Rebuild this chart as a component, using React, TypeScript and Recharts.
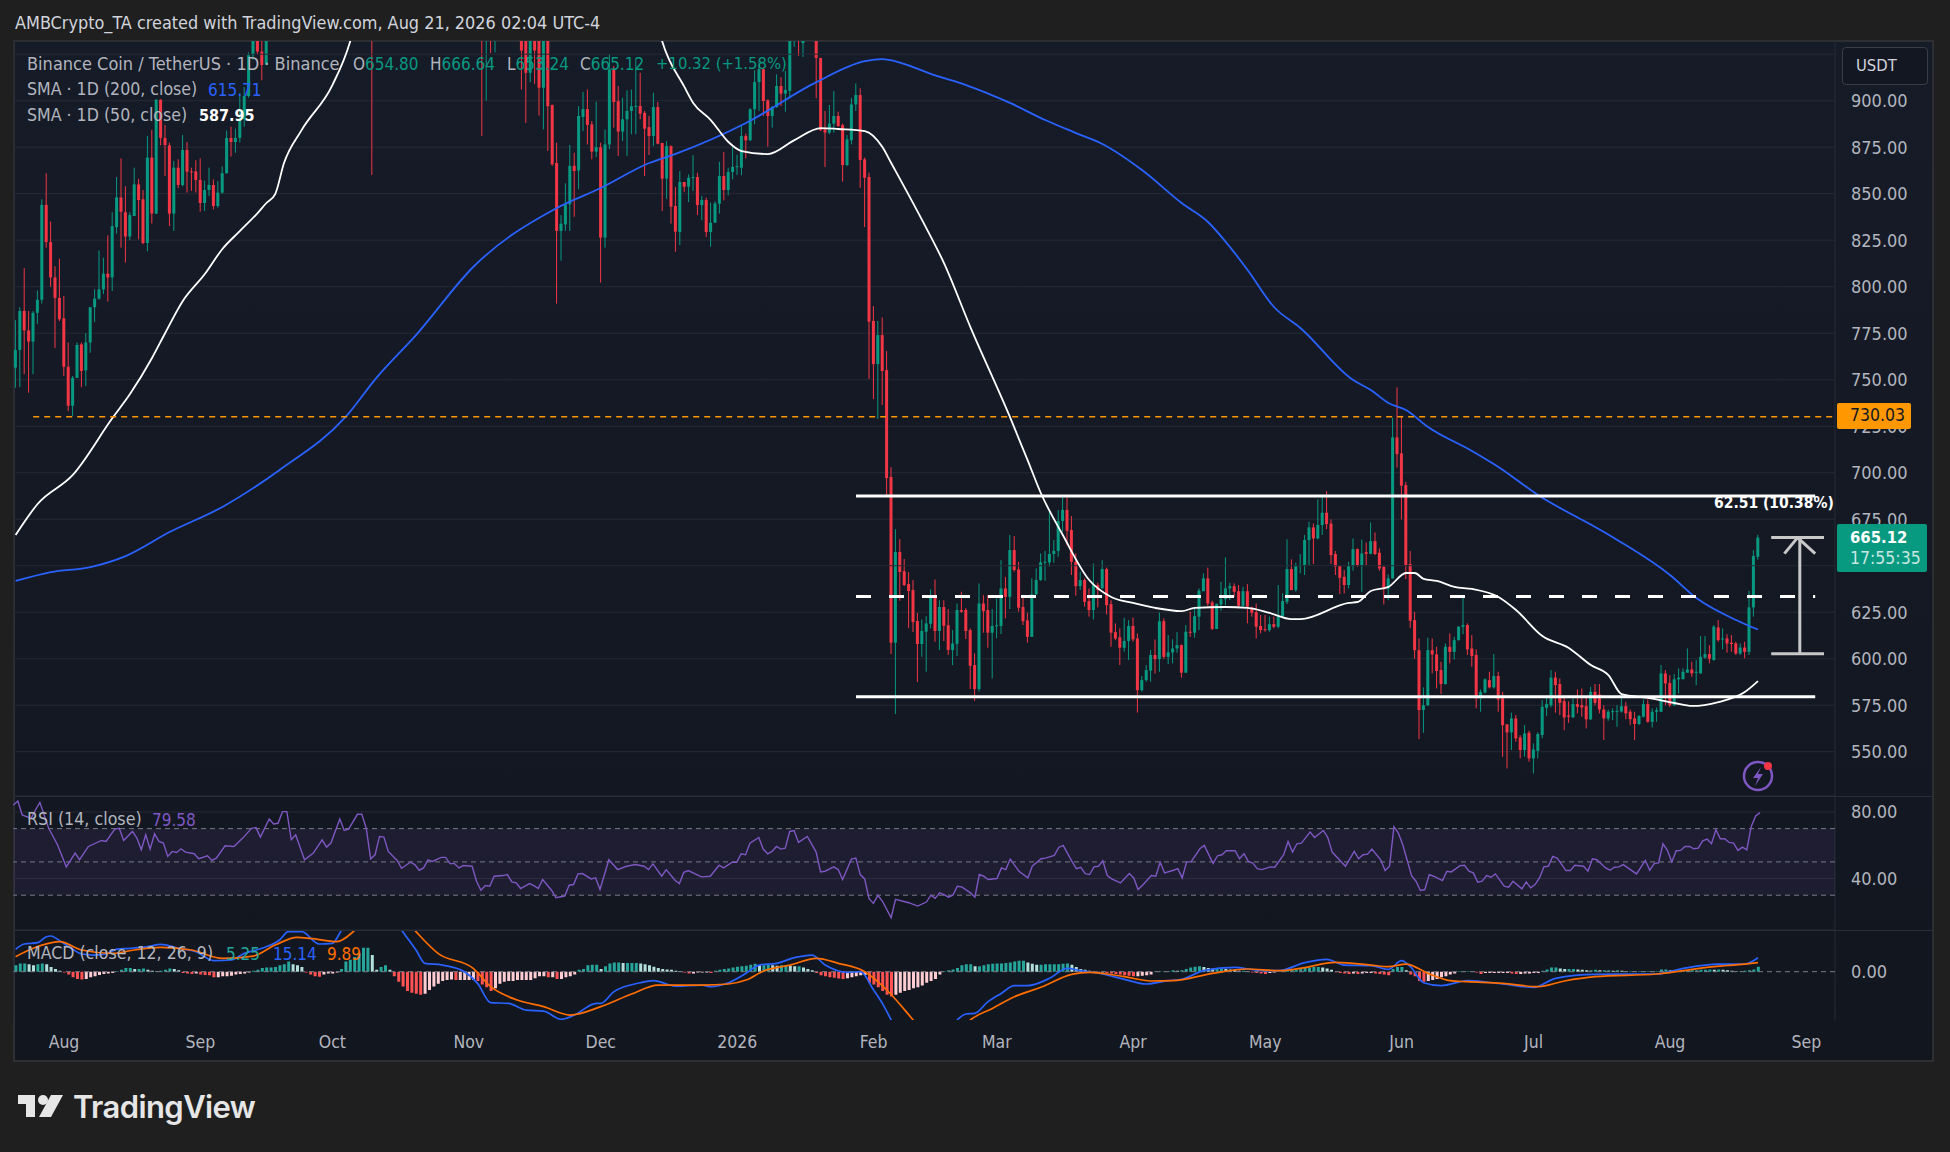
import { Bar, Cell, CartesianGrid, ComposedChart, Line, ReferenceArea, ReferenceLine, XAxis, YAxis } from "recharts";

const blank = (n: number) => Array(n).fill(null);

// one entry per day, index 0 is 21 Jul 2025. Blanks are candles above the visible price range
const opens = [
  756.5,766,787,776.5,770.5,786,793,844,824,805, 794,783,757,736,751,769,755,770,789,793.6,
  798.6,807,805,832,848,840,827,838,855,847, 823.5,869.4,839.3,900.5,880,876,839.3,864,854.7,873.5,
  862,862,857.4,845,852,854.7,843.4,850.6,861,880, 877.8,880,890,902.5,924.5,940,926.4,919.5,
  ...blank(23), 1150, ...blank(24), 960,935,950,940, ...blank(5), 945,940,915,945,940,
  907,945,897.6,866.5,830,833.5,844.3,865,862.5,891.3, 895.5,887.3,872.6,875,826.4,876.5,916.9,899.8,883.4,890,
  894.5,897,897.2,893.5,885.8,881,896.6,877.3,858.1,875.6, 843.4,829.4,856.3,853.8,858.6,859,843.9,846.6,829.4,834.4,
  844.6,859.5,852,861.7,864.4,864,881,878.7,895.4,910, 916.9,900.2,891.8,896.6,907.9,903.8,905.3,935,950,931,
  ...blank(2), 945,923,884.6,882.8,887.7,891.8,886.9,865.4, 878.7,898,903.1,868.5,859,781.6,758.4,774,755.2,697.7,
  608.6,657.4,647.1,640.2,636.9,620.3,607.9,614.5,618.8,633, 614.9,627.8,618,604.7,608,626.2,626.2,615.4,596.6,583.7,
  629.7,626.2,614,617.6,617.6,637.8,633.3,658.4,648,627.8, 620.6,611.8,634.6,642.3,651.8,651.8,656.3,658,674,680,
  669.2,652.1,639,642.3,631,626.2,639.6,637.8,648.2,629.4, 614.3,611.5,605.9,609.5,617.6,610.9,583.1,588.5,593.6,602,
  599.8,620.2,601,603.4,605.5,607.3,592.5,614.5,614,622.6, 636.3,643.2,630.3,616,629.1,632,637.8,639,636.3,628.5,
  636.3,627.6,625,617.6,615.9,615.4,618.6,617.2,622.6,630.6, 648.2,636.9,649.8,650.3,663.8,670.6,664.7,671.9,678.5,672.7,
  656.3,649.8,644,639.6,649.8,658.9,650.3,657.3,656.4,663.2, 657,649.4,637.8,643.2,719,710.4,693.3,650.9,620.8,604.6,
  572.4,575,604.6,602.3,593.9,586.4,606.4,603.7,610,617.2, 618.1,605.5,602,578.7,581.9,588.5,584.6,590.7,578.7,564.7,
  560.4,567.9,557.7,550.9,560.2,546.4,550.5,559,573.6,575, 589.9,586.4,577.2,569.5,568.4,575.6,575,574.5,567.4,582.2,
  580.8,572.7,567.9,571.5,571.8,571.6,574.5,571.5,567.9,564.9, 568.8,575.6,566.1,571.5,571.5,592.1,587,575,588.9,589,
  592.5,594.2,592.4,592.1,600.6,602.5,599.3,616.8,610.4,610.9, 608.6,608.2,602.8,606,603.7,627.6,654.8,
];
const highs = [
  782,789,810,787,787,798,847,861,835,811, 815,795,770,752,770,770,775,789,798.6,819.5,
  815.6,827.6,840,859,869,854,840,864,858,852, 881,884.3,900.8,900.8,887,877.4,867.6,868.5,881.6,877.8,
  864,868,869,857,864,857.7,856.8,864.7,884,886, 885,904,907.4,926,940,950,935,960,
  ...blank(23), 1260, ...blank(24), 985,960,965,965, ...blank(5), 960,955,955,955,950,
  950,955,898,877.4,838.5,855.6,876.2,872,897,904.7, 906,889,899.5,877.4,884.6,925,918.7,907.9,901.6,905.6,
  906,922.8,915,894.5,891.8,904.3,899.3,877.3,878.3,876, 853.6,862.2,856.3,860.4,870.8,861.3,848.8,847.9,845.2,846,
  867.2,872.4,864,875.1,871,886.4,882.3,896,916.3,921.3, 917.8,900.7,897.1,914.2,912.7,916,945,960,960,955,
  ...blank(2), 955,923,894.5,897.7,905.2,894.1,887.7,881.6, 901.6,909.3,906.7,869.4,861.3,789.6,781.6,783.5,765.4,703,
  669.7,664.3,653.6,646.6,642.3,624.6,621.1,622.9,637.3,642.6, 631.5,631.5,626.7,615.4,629.7,636,627.2,616.3,602.9,640.5,
  634.2,634.2,626.7,632.4,653,644,666.5,665.9,652.1,633.3, 624.7,643.2,648.6,656.6,658,679.6,663.8,680,688,686.7,
  676.7,656.6,646.8,643.2,637.8,651.2,640.8,653,649,631.5, 619,616.3,622,620.8,622.2,613.6,590.7,596.6,604.7,610.4,
  624.9,621.7,612.7,610.4,614.3,607.7,618.1,625.3,627.6,637.8, 645.9,649,631.2,629.7,641.4,654.5,640.8,640.5,639.6,638.7,
  640.1,628,629.7,623.5,623.5,622.6,622.6,639.6,635.1,664.2, 653.4,651.6,656.3,666.5,673.6,672.7,685.7,688,690.1,674.9,
  657.9,649.8,647.7,652.1,664.7,659.3,664.1,662.5,673.3,667.9, 659.3,649.8,645.3,729.5,745.9,730.6,695.1,657.9,625.2,610.9,
  584.6,611.3,610.9,606.4,598.4,608.2,613.6,611.8,617.5,633.3, 619,612.7,605,583.5,589.4,593,602.5,593,582.2,564.7,
  571,569.7,558.9,564.3,561.3,554.5,560.4,577.8,579.6,593.9, 593,589.4,579.6,577,578.7,583.5,584,580,584.9,586.4,
  586.4,575,572.7,573.3,575,580.4,576.8,572.7,571.5,569.7, 578.1,578.1,573.3,573.8,596.6,593.9,591.2,591.7,594.8,594.8,
  605.5,598.4,599.3,612.2,612.2,607.3,618.1,620.8,616.3,613.2, 612.7,609.1,608.2,609.1,636.5,658.4,666.64,
];
const lows = [
  745.7,746,753,743,753,780,791,821,800,767, 781.5,752,733,730.5,751,746,746.6,764.5,781,793,
  796,792,797.7,828.5,821,813,825,838,825.5,822.8, 819,834,839,876,859.5,832.6,830,853,854,850.6,
  851.5,850.6,840.3,840.7,848.8,841.6,842.5,850,860.8,870, 872,877.5,886,901.6,922,925,911,919,
  ...blank(23), 860, ...blank(24), 881,900,925.6,926, ...blank(5), 906,888,910,909,892,
  884.6,873,865,790.9,814,830,830,837.6,852.4,883.7, 876.5,868.5,869.7,802.2,821,873.9,885.5,870.3,878.3,870.3,
  882,882,890,859.5,870.8,875.6,876.5,840.7,847.3,833.9, 818.8,822.4,851,845.5,851.5,838.5,835.7,826.7,821.5,834.4,
  839.3,846.4,849.1,857.7,860,859.9,869,878.3,887.3,894.5, 891.8,875.3,885.5,896.2,897.1,894.1,901.3,929,924,923.5,
  ...blank(2), 901.3,883.7,864.4,882,882.8,885.9,856.5,864.9, 876.5,894.5,853.2,832.1,750.4,739.6,728.9,736.4,687.5,602.5,
  570.3,631.2,639,616.5,614.4,587.5,601,593,616.3,609.1, 604.7,609.5,602,596.6,601.4,624.7,610.6,583.7,577.4,582.3,
  614,605.9,589.4,611,613.3,621.7,626.7,646.8,625.3,618.1, 608.6,611.8,634.2,641.9,641.9,649.5,651.6,654.8,668.3,661,
  645,633.9,636.9,628,622.6,621.1,627.6,637.8,623.8,606.4, 610,596.6,603.8,599.3,609.1,571,582.3,587.6,587.6,592.1,
  593,600,597.1,597.5,603.2,589.8,592.5,611.8,611.3,615.4, 636.3,628.5,615.4,616,625.8,628.8,631.5,633.3,627,627.6,
  619,622.6,610.9,613.6,614.5,614.5,616.3,616.3,622.2,629.4, 636.9,636,645.9,645,650.3,650.9,664.1,666.5,669.7,650.9,
  645,634.8,635.1,637.8,647.3,649.4,636,650.3,656.2,655.7, 647.3,629.2,631.5,643,702.8,674.9,642.8,616.6,600,556.8,
  560.2,574.5,592.1,584,581,586,597.5,599.6,609.7,613.2, 602,595.7,573.3,571.5,581.3,584,584,571.5,547.3,541,
  550.9,555.4,546.4,547.3,544.6,538.3,546.4,557.2,569.2,573.8, 571,569.7,561.6,565.5,568.4,570.6,568.8,562.5,567,575,
  570.6,556.3,566.6,567,563.4,571,567.5,564.3,556.3,564.3, 568.4,565.6,563,566.1,571.5,575,574,574.5,581.3,588.9,
  592.5,590.3,585.8,592,600,597.5,598.9,609.1,605,603.2, 603.7,602,602,600.2,602,622.6,653.24,
];
const closes = [
  766,787,776.5,770.5,786,793,844,824,805,794, 782.5,757,736,751,768.7,754.7,770,789,793.6,798.6,
  807,805,832.6,848,840.3,827,838.5,855,846.6,823.5, 869.4,839.3,900.5,880,876.2,839.3,864,854.7,873.5,861.8,
  861.5,857.4,845,852,854.7,843.4,850.6,861,880,877.8, 880,890,902.5,924.5,934,926.4,919.2,945,
  ...blank(23), 1020, ...blank(24), 945,950,940,952, ...blank(5), 927,915,940,927,907,
  945,897,865.8,830,833.9,844.3,865,862.2,891.8,895.5, 887,872.6,875,826.4,876.5,916.9,899.3,883.4,890,894.5,
  897,897.2,893,885,881,896.6,876.9,858.1,875.6,843, 829.6,856.3,853.8,858.6,859,843.9,846.6,829.4,834.4,844.8,
  859.5,852,861.7,864.4,864.8,881,878.7,895.4,910,916.9, 899.8,891.8,896.6,907.9,903.8,905.8,935,950,934,945,
  ...blank(2), 923,884.1,882.8,887.7,891.8,886.4,865.4,879.2, 898,903.1,868.1,858.6,781.2,758.4,774,754.7,697.1,608.6,
  657.4,646.6,639.6,636.4,619.7,607.9,614.9,619,633,614.9, 627.8,617.7,604.7,608.2,626.2,625.3,614.9,596.2,583.7,629.7,
  625.6,614,617.6,618,637.8,633.3,658.4,647.7,627.4,620.2, 611.8,634.6,642.3,651.8,652.2,656.3,658,674,680,668.8,
  652.1,639,642.3,630.6,626.2,639.6,637,648.2,628.8,614, 610.9,605.9,609.5,617.6,610.4,583.1,588.5,593.9,602,599.8,
  620.2,601,603.4,605.5,607.3,592.5,614.5,614,622.9,636.6, 643.2,629.7,616,629.4,632,637.8,639,636,628.5,636.3,
  628,624.7,617.2,615.4,615.4,618.6,617.2,622.6,631,648.2, 636.9,649.8,650.3,663.8,670.6,664.7,671.9,678.5,672.4,655.7,
  649.5,643.5,639.6,649.8,658.9,650.3,656.6,656.4,663.2,656.3, 648.5,637.8,643.2,719,710,693,650.3,620.4,604.6,572.4,
  575,604.6,602.3,593.4,586.4,606.4,603.7,610,617.2,618.1, 605,601.4,578.7,582.2,588.9,584.6,590.7,578.1,564.3,560.4,
  567.9,557.2,550.9,559.8,546.4,551.2,559.5,574.2,575.6,589.9, 585.8,576.3,568.4,568.8,575.6,574.2,573.8,567.4,582.2,576.3,
  572.7,567.9,571.5,571.8,572,574.5,570.6,567.5,564.9,569.2, 575.6,566.1,571.5,572.4,592.1,586.7,575,588.9,589.8,593,
  594.2,592.1,593,601,602.5,600,617.2,610,610.9,608.2, 607.9,602.8,606,603.7,627.6,655.2,665.12,
];

// [day, value] read at the turning points of each line
const sma200: number[][] = [
  [0,641.8],[8,646.6],[17,649.3],[25,655.2],[35,668.1],[47,681.6],[60,701.5],[75,730],[82,751],[91,774],[104,810.6],[123,842.3],
  [133,853.1],[144,866.5],[150,871.4],[166,888],[182,910],[193,921.3],[197,922.4],[204,918.1],[208,914.4],[216,908.4],[226,898.8],
  [234,889.6],[241,882.6],[247,876.7],[256,862.7],[265,845],[271,834.8],[276,821.3],[280,809],[286,789.1],[292,777.8],[304,749.8],
  [308,744.5],[312,737.5],[316,733.7],[321,724.6],[331,711.7],[337,703.1],[346,688],[361,668.1],[376,645],[382,632.6],[391,620.8],
  [394,617.6],[396,615.71],
];
const sma50: number[][] = [
  [0,666.5],[5,683.2],[13,698.8],[22,729.4],[26,742.3],[31,761.7],[34,775.1],[38,792.3],[43,806.8],[47,820.3],[51,830],[55,839.6],
  [57,845],[59,849.8],[61,866.5],[65,884.2],[72,908.4],[76,931.6],[78,950],[146,940],[147,931.6],[152,907.4],[154,898.8],[158,889.6],
  [162,877.8],[165,872.9],[171,871.3],[177,878.8],[183,885.3],[187,884.8],[193,883.7],[197,875.1],[199,866.5],[206,835.9],[211,812.7],
  [217,778.3],[226,729.9],[230,706.8],[233,689.1],[238,666.5],[244,642.3],[249,633.2],[254,630],[259,627.3],[265,625.6],[268,627.3],
  [275,627.8],[280,627.3],[285,624.6],[290,621.3],[292,621.3],[303,630],[305,630.5],[308,636.4],[312,638.6],[316,646.1],[318,646.1],
  [320,642.9],[323,641.8],[327,638.6],[331,637.5],[337,633.2],[341,626.2],[347,612.2],[353,605.8],[358,596.6],[362,591.2],[365,581],
  [371,578.9],[377,576.2],[381,574.6],[387,576.7],[393,582.1],[396,587.95],
];
const rsi: number[][] = [
  [0,84.2],[1,86.6],[2,78.2],[4,76.2],[5,81.2],[6,85.8],[8,70.2],[10,60.3],[12,47],[14,55.3],[15,51.3],[17,59.3],[20,62.9],[21,62.3],
  [23,69.7],[24,70.2],[25,62.9],[27,68.3],[28,64.3],[29,57.3],[30,66.3],[31,57.7],[32,66.9],[33,62.3],[34,61.3],[35,53.3],[36,56.3],
  [37,55.7],[38,57.9],[39,55.9],[41,54.9],[42,51.9],[44,53.7],[45,50.9],[46,52.3],[48,59.7],[50,59.3],[52,64.3],[54,70.2],[55,70.6],
  [56,64.9],[58,75.8],[59,72.8],[60,73.2],[61,80.2],[62,80.2],[63,63.3],[64,66.3],[66,51.3],[68,55.3],[70,63.3],[71,58.9],[72,61.3],
  [74,75.8],[75,68.9],[76,69.7],[78,78.6],[79,78.6],[80,70.2],[81,51.9],[82,54.3],[83,65.3],[84,64.9],[85,56.3],[87,50.9],[88,46.2],
  [90,49.8],[91,48.4],[92,45],[93,46.4],[94,51.3],[95,50.3],[97,52.7],[98,52.7],[99,49],[100,49],[101,46.4],[102,47.8],[104,47.4],
  [105,38.4],[106,33],[107,35.8],[108,35.4],[109,41.4],[111,41.8],[112,42.4],[113,38],[114,37.4],[115,34],[117,37],[118,35.8],[119,34],
  [120,39.4],[122,33],[123,28.5],[125,29.5],[126,36],[127,36.4],[128,42.8],[129,43],[131,39.8],[132,40.4],[133,33.4],[135,51.3],
  [137,45.4],[139,47.4],[141,48.4],[143,47.4],[144,45.4],[145,48.8],[147,41.4],[148,45.4],[150,39],[151,37],[152,43.8],[153,44.8],
  [156,41],[158,41.4],[160,48],[161,46.4],[163,49.8],[164,49.8],[165,54.9],[166,54.3],[167,61.3],[169,64.7],[170,57.7],[171,54.9],
  [172,56.3],[173,59.3],[174,57.7],[175,58.3],[176,68.3],[177,68.9],[178,61.7],[180,65.3],[182,55.9],[183,44],[184,44.4],[186,47],
  [187,45.4],[188,39.4],[190,51.7],[191,52.3],[192,42.4],[193,39.8],[194,27.9],[195,25.1],[196,29.9],[197,26.5],[199,16.5],[200,27.5],
  [203,25.5],[205,23.5],[207,25.9],[208,30],[209,28.1],[210,31.4],[211,30.4],[212,28.8],[213,30],[214,35.4],[215,35],[217,31.4],
  [218,28.8],[219,42.4],[220,41.4],[221,39.4],[223,40],[224,46.4],[225,45.4],[226,51.7],[228,44.4],[230,40.4],[231,47.4],[233,51.9],
  [234,52.3],[236,53.9],[237,58.7],[238,59.9],[240,50.3],[241,46],[242,46.8],[243,43],[244,42.4],[245,47],[246,47.4],[247,50.7],
  [248,41.8],[249,39.8],[251,37.4],[253,43],[254,40.4],[255,33.4],[256,36],[258,41.8],[259,41.4],[260,49.8],[261,43.4],[263,45],
  [264,46],[265,40.4],[266,50],[267,50],[269,57.9],[270,59.9],[272,49],[273,53.7],[274,54.3],[275,56.7],[277,56.7],[278,51.9],[279,54.9],
  [280,50.3],[281,49.3],[282,46],[283,45.4],[285,47],[286,46.8],[288,54.3],[289,62.3],[290,55.9],[291,60.9],[292,61.3],[294,67.9],
  [295,64.7],[297,68.9],[298,64.7],[299,55.9],[302,47.4],[304,56.3],[305,51.9],[306,54.3],[307,54.7],[308,57.7],[310,51.3],[311,44.8],
  [312,47.4],[313,71.2],[314,67.3],[315,60.3],[317,41.8],[318,38.4],[319,32.8],[320,33.4],[321,42.4],[322,41.4],[324,38.8],[325,44.4],
  [326,44],[328,47.8],[329,48],[330,44.4],[331,43.4],[332,37.8],[333,38.4],[334,41.8],[335,40.8],[336,42.8],[338,35.4],[339,34.8],
  [340,38.4],[342,33.8],[343,38],[344,34.4],[345,36.4],[346,40.4],[347,47],[348,47.4],[349,53.3],[350,52.3],[352,44.8],[353,44.8],
  [354,48],[356,47.4],[357,44.4],[358,51.9],[359,51.3],[361,46.4],[362,45],[363,46.8],[364,47],[365,48.4],[368,42.8],[370,50.9],[371,45],
  [372,49],[373,49.4],[374,60.9],[375,56.9],[376,50],[377,56.7],[378,56.9],[379,59.3],[380,59.3],[381,57.9],[382,58.3],[383,62.7],
  [384,63.7],[385,60.9],[386,69.3],[387,63.9],[388,63.9],[389,61.7],[390,61.3],[391,56.9],[392,58.9],[393,57.3],[394,71.2],[395,77.6],
  [396,79.58],
];
const macd: number[][] = [
  [0,24.3],[2,30.1],[5,31.5],[7,38],[8,38.8],[10,33.7],[13,24.3],[15,19.2],[18,18.1],[21,19.9],[23,24.6],[26,25.4],[30,27.2],[33,29.7],
  [37,25.4],[41,21.7],[45,12],[49,12.7],[52,19.9],[56,25.4],[60,34.4],[62,43.5],[65,43.5],[69,30.1],[72,30.8],[74,44.6],[78,72],[84,72],
  [88,43.5],[91,23.6],[93,9.1],[97,7.2],[102,0],[105,-12.7],[108,-33.7],[112,-34.4],[116,-41.7],[120,-42.8],[124,-51.8],[127,-47.1],
  [132,-34.4],[133,-34.4],[136,-21.7],[142,-12],[145,-9.8],[150,-15.6],[156,-14.5],[158,-16.3],[162,-12],[166,-1.8],[169,7.2],[173,9.1],
  [177,15.2],[181,18.1],[184,7.2],[189,-0.7],[192,0],[195,-19.9],[197,-34.4],[199,-52.5],[203,-85],[210,-85],[214,-52.5],[216,-46],
  [218,-45.3],[221,-32.6],[224,-23.6],[227,-15.2],[230,-15.2],[235,-7.2],[239,3.6],[242,1.1],[247,-2.5],[252,-8.3],[257,-13.4],[262,-9.8],
  [265,-8.3],[270,1.1],[277,4.7],[282,1.8],[287,1.1],[293,9.8],[298,13.4],[302,7.2],[308,6.5],[312,2.5],[315,12],[317,5.4],[320,-12],
  [324,-15.2],[330,-9.8],[338,-13.4],[345,-17],[350,-7.2],[359,-2.9],[373,-2.5],[379,3.6],[387,8.3],[393,8.3],[396,15.14],
];
const macdSignal: number[][] = [
  [0,16.3],[4,25.4],[10,32.6],[15,23.6],[22,19.9],[27,23.6],[33,26.4],[40,23.6],[47,14.5],[54,17],[59,29],[64,37.3],[67,36.2],[73,32.6],
  [77,44.6],[81,65],[87,65],[91,43.5],[96,19.9],[104,3.6],[108,-16.3],[114,-30.8],[120,-38],[126,-47.1],[133,-38],[140,-24.3],[146,-14.5],
  [156,-14.5],[162,-13.4],[166,-9.1],[170,0.7],[176,7.2],[182,14.5],[187,9.1],[193,0],[198,-19.9],[204,-52.5],[208,-75],[213,-75],
  [217,-52.5],[222,-39.9],[227,-27.2],[233,-17],[240,-2.9],[244,-0.7],[252,-5.4],[258,-10.1],[263,-9.8],[272,-1.8],[280,2.9],[287,1.1],
  [292,3.6],[300,10.1],[308,7.2],[312,5.4],[316,8.3],[321,-1.8],[326,-9.8],[330,-10.9],[338,-12.7],[346,-16.3],[352,-10.1],[359,-5.4],
  [373,-2.5],[386,5.4],[393,8.3],[396,9.89],
];
const macdHist = [
  7,9,9,8,7,8,9,8,5,3, 1,-1,-3,-6,-8,-8.5,-8,-6,-5,-3.5, -2.5,-2,-1.5,0.5,2,4,4,3,3,3.5, 2,1,0.5,1,2,3.5,3,1.5,-1.5,-2,
  -2.5,-2,-3,-3.5,-4,-6,-6,-5,-5,-4.5, -3,-2.5,-2,-1,1,2,4,4.5,4.5,5, 7,8,11,8,7,5,-1,-3,-5,-5.5, -3,-2,-2,-1,3,11,13,16,20,26,
  26,18,2,5,7,2,-5,-11,-16,-21, -23,-24,-25,-24,-20,-16,-13,-10,-9,-8.5, -9,-9,-9,-9,-9,-10,-14,-17,-21,-18, -13,-11,-10,-10,-9,-9,-9,-9,-7,-5,
  -5,-6,-6,-8,-8,-6,-5,-3,2,3, 7,7.5,7.5,3,6,9,10,10,9.5,9.5, 9.5,9.5,9,8,7,5.5,4,3,2.5,2, 1,0.5,-1,-2,-2,-1,-1,-1,-1.5,1,
  2,3,3.5,4.5,5.5,6,6.5,7.5,8.5,7, 7,7.5,7,6.5,7,7,6.5,6,6,4.5, 3,1.5,-1.5,-4,-5,-6,-6.5,-7.5,-8,-7, -6,-5,-4,-3.5,-12,-14,-17,-21,-25,-27,
  -25,-23,-21,-20,-18,-17,-15,-12,-10,-8, -3,0.5,1.5,2.5,4,7,8,8,6,6, 7,8,8.5,9,9,9.5,10,11,12,12, 10,8.5,7.5,7.5,8,8,8,8,8.5,9,
  7.5,5,3,2,1,-1,-1,-1,-1.5,-2, -2.5,-3,-4,-4.5,-5,-5,-4.5,-4,-3,0.5, 0.5,0.5,0.5,1.5,1,1.5,3,4.5,5.5,6, 5,4,3.5,3.5,3.5,3,2.5,2,1,1,
  0.5,-1,-1.5,-2,-2.5,-1.5,-1,0.5,1,2, 2.5,2.5,3,4,4.5,5,5,4.5,3.5,2, -0.5,-1.5,-2,-2.5,-2,-2.5,-2,-1.5,-1.5,-2, -2.5,-3,-4,3,5,5,1.5,-3,-5,-10,
  -11,-10,-9,-8,-6,-5,-3,-2,0.5,0.5, 0.5,0.5,-1,-2.5,-1.5,-1.5,-1.5,-1.5,-1.5,-1.5, -2,-2.5,-2.5,-2,-2,-1.5,-1.5,1,2.5,4.5, 4.5,3.5,3,3,3,2.5,2,1.5,1.5,2,
  1.5,1.5,1.5,1,1.5,1,0.5,0.5,0.5,0.5, 0.5,0.5,0.5,0.5,2.5,2.5,1.5,1,1,1.5, 1.5,1.5,1.5,2,2,2.5,2,2.5,2,1.5, 1,0.5,0.5,1,1.5,2.5,5.25,
];

const monthTicks = [11, 42, 72, 103, 133, 164, 195, 223, 254, 284, 315, 345, 376, 407];
const monthLabels = ["Aug", "Sep", "Oct", "Nov", "Dec", "2026", "Feb", "Mar", "Apr", "May", "Jun", "Jul", "Aug", "Sep"];
const priceTicks = [550, 575, 600, 625, 675, 700, 725, 750, 775, 800, 825, 850, 875, 900];
// these two grid rows have their labels covered by the price tag and the currency button
const coveredPriceRows = [650, 925];
const rsiTicks = [40, 80];
const rsiGuides = [30, 50, 70];

const rangeHigh = 687.5;
const rangeMid = 633.4;
const rangeLow = 579.6;
const supportLevel = 730.03;
const measureFrom = 602.61;
const measureTo = 665.12;

const GREEN = "#089981";
const RED = "#f23645";
const PANE = "#131722";
const GRID = "#262a35";
const TEXT = "#b2b5be";
const FONT = "'DejaVu Sans Condensed', 'DejaVu Sans', sans-serif";
const TOTAL_DAYS = 414;

const fromPairs = (pairs: number[][]) => new Map(pairs.map(([d, v]) => [d, v]));
const sma200ByDay = fromPairs(sma200);
const sma50ByDay = fromPairs(sma50);
const rsiByDay = fromPairs(rsi);
const macdByDay = fromPairs(macd);
const signalByDay = fromPairs(macdSignal);

const rows = Array.from({ length: TOTAL_DAYS }, (_, day) => ({
  day,
  open: opens[day] ?? null,
  high: highs[day] ?? null,
  low: lows[day] ?? null,
  close: closes[day] ?? null,
  range: lows[day] != null ? [lows[day], highs[day]] : null,
  sma200: sma200ByDay.get(day) ?? null,
  sma50: sma50ByDay.get(day) ?? null,
  rsi: rsiByDay.get(day) ?? null,
  macd: macdByDay.get(day) ?? null,
  signal: signalByDay.get(day) ?? null,
  hist: macdHist[day] ?? null,
}));

function histColor(i: number) {
  const v = macdHist[i];
  const prev = i > 0 ? macdHist[i - 1] : 0;
  if (v >= 0) return v >= prev ? "#26a69a" : "#b2dfdb";
  return v < prev ? "#ff5252" : "#ffcdd2";
}

function Candle(props: any) {
  const { x, y, width, height, payload } = props;
  if (payload.open == null) return null;
  const cx = x + width / 2;
  const unit = height / (payload.high - payload.low);
  const toY = (v: number) => y + (payload.high - v) * unit;
  const top = toY(Math.max(payload.open, payload.close));
  const bottom = toY(Math.min(payload.open, payload.close));
  const color = payload.close >= payload.open ? GREEN : RED;
  return (
    <g>
      <line x1={cx} x2={cx} y1={y} y2={y + height} stroke={color} strokeWidth={1} />
      <rect x={cx - 1.5} y={top} width={3} height={Math.max(bottom - top, 1)} fill={color} />
    </g>
  );
}

function Label({ x, y, color, children, size = 17, weight = 400 }: any) {
  return (
    <div style={{ position: "absolute", left: x, top: y, transform: "translateY(-50%)", color, fontSize: size, fontWeight: weight, fontFamily: FONT, whiteSpace: "nowrap", lineHeight: 1 }}>
      {children}
    </div>
  );
}

function axisTick(fmt = (v: number) => v.toFixed(2)) {
  return { orientation: "right" as const, width: 115, tickLine: false, axisLine: false, tickSize: 0, tickMargin: 16, tick: { fill: TEXT, fontSize: 18, fontFamily: FONT }, tickFormatter: fmt, allowDataOverflow: true, interval: 0 as const };
}

const xProps = { dataKey: "day", ticks: monthTicks, interval: 0 as const, tick: false, height: 0, axisLine: false, tickLine: false };
const plotMargin = { top: 0, right: 0, bottom: 0, left: 13.4 };

export default function App() {
  return (
    <div style={{ position: "absolute", left: 0, top: 0, width: 1950, height: 1152, background: "#1f1f1f", overflow: "hidden" }}>
      <div style={{ position: "absolute", left: 13, top: 40, width: 1921, height: 1022, background: "linear-gradient(#161b28, #12161f)", border: "2px solid #2e2f33", boxSizing: "border-box" }} />

      <div style={{ position: "absolute", left: 0, top: 41 }}>
        <ComposedChart width={1950} height={755} data={rows} margin={plotMargin} barCategoryGap={0}>
          <CartesianGrid stroke={GRID} strokeWidth={1} />
          <XAxis {...xProps} />
          <YAxis {...axisTick()} domain={[526.2, 932.1]} ticks={priceTicks} />
          {coveredPriceRows.map((v) => (
            <ReferenceLine key={v} y={v} stroke={GRID} strokeWidth={1} />
          ))}
          <Bar dataKey="range" shape={Candle} isAnimationActive={false} />
          <Line dataKey="sma200" type="monotone" stroke="#2962ff" strokeWidth={1.8} dot={false} connectNulls isAnimationActive={false} />
          <Line dataKey="sma50" type="monotone" stroke="#ffffff" strokeWidth={1.8} dot={false} connectNulls isAnimationActive={false} />
          <ReferenceLine segment={[{ x: 4, y: supportLevel }, { x: 413, y: supportLevel }]} stroke="#ff9800" strokeWidth={1.5} strokeDasharray="6 5" />
          <ReferenceLine segment={[{ x: 191, y: rangeHigh }, { x: 409, y: rangeHigh }]} stroke="#ffffff" strokeWidth={3} />
          <ReferenceLine segment={[{ x: 191, y: rangeMid }, { x: 409, y: rangeMid }]} stroke="#ffffff" strokeWidth={3} strokeDasharray="15 18" />
          <ReferenceLine segment={[{ x: 191, y: rangeLow }, { x: 409, y: rangeLow }]} stroke="#ffffff" strokeWidth={3} />
          <ReferenceLine segment={[{ x: 399, y: measureTo }, { x: 411, y: measureTo }]} stroke="#c8c8c8" strokeWidth={3} />
          <ReferenceLine segment={[{ x: 399, y: measureFrom }, { x: 411, y: measureFrom }]} stroke="#c8c8c8" strokeWidth={3} />
          <ReferenceLine segment={[{ x: 405, y: measureFrom }, { x: 405, y: measureTo }]} stroke="#c8c8c8" strokeWidth={3} position="end" />
          <ReferenceLine segment={[{ x: 402, y: 656.5 }, { x: 405, y: measureTo }]} stroke="#c8c8c8" strokeWidth={3} />
          <ReferenceLine segment={[{ x: 409, y: 656.5 }, { x: 405, y: measureTo }]} stroke="#c8c8c8" strokeWidth={3} />
        </ComposedChart>
      </div>

      <div style={{ position: "absolute", left: 0, top: 796 }}>
        <ComposedChart width={1950} height={134} data={rows} margin={plotMargin} barCategoryGap={0}>
          <CartesianGrid stroke={GRID} strokeWidth={1} />
          <XAxis {...xProps} />
          <YAxis {...axisTick()} domain={[9.1, 89.6]} ticks={rsiTicks} />
          <ReferenceArea y1={30} y2={70} fill="#7e57c2" fillOpacity={0.1} stroke="none" />
          {rsiGuides.map((v) => (
            <ReferenceLine key={v} y={v} stroke="#787b86" strokeWidth={1} strokeDasharray="5 4" />
          ))}
          <Line dataKey="rsi" stroke="#7e57c2" strokeWidth={1.4} dot={false} connectNulls isAnimationActive={false} />
        </ComposedChart>
      </div>

      <div style={{ position: "absolute", left: 0, top: 930 }}>
        <ComposedChart width={1950} height={90} data={rows} margin={plotMargin} barCategoryGap={0}>
          <CartesianGrid stroke={GRID} strokeWidth={1} horizontal={false} />
          <XAxis {...xProps} />
          <YAxis {...axisTick()} domain={[-52.5, 45.3]} ticks={[0]} />
          <ReferenceLine y={0} stroke="#787b86" strokeWidth={1} strokeDasharray="5 4" />
          <Bar dataKey="hist" barSize={3} isAnimationActive={false}>
            {rows.map((r) => (
              <Cell key={r.day} fill={r.hist == null ? "none" : histColor(r.day)} />
            ))}
          </Bar>
          <Line dataKey="macd" type="monotone" stroke="#2962ff" strokeWidth={1.7} dot={false} connectNulls isAnimationActive={false} />
          <Line dataKey="signal" type="monotone" stroke="#ff6d00" strokeWidth={1.7} dot={false} connectNulls isAnimationActive={false} />
        </ComposedChart>
      </div>

      <div style={{ position: "absolute", left: 0, top: 1020 }}>
        <ComposedChart width={1950} height={40} data={rows} margin={plotMargin} barCategoryGap={0}>
          <XAxis dataKey="day" ticks={monthTicks} interval={0} axisLine={false} tickLine={false} tickSize={0} tickMargin={16} height={40} tick={{ fill: TEXT, fontSize: 17.5, fontFamily: FONT }} tickFormatter={(d: number) => monthLabels[monthTicks.indexOf(d)]} />
          <YAxis orientation="right" width={115} axisLine={false} tickLine={false} tick={false} />
          <Bar dataKey="hist" fill="none" isAnimationActive={false} />
        </ComposedChart>
      </div>

      <div style={{ position: "absolute", left: 15, top: 796, width: 1918, height: 1, background: "#2a2e39" }} />
      <div style={{ position: "absolute", left: 15, top: 930, width: 1918, height: 1, background: "#2a2e39" }} />

      <Label x={15} y={23} color="#d1d4dc" size={17.9}>AMBCrypto_TA created with TradingView.com, Aug 21, 2026 02:04 UTC-4</Label>

      <Label x={27} y={64} color={TEXT} size={18}>Binance Coin / TetherUS · 1D · Binance</Label>
      <Label x={353} y={64} color={TEXT}>O<span style={{ color: GREEN }}>654.80</span></Label>
      <Label x={430} y={64} color={TEXT}>H<span style={{ color: GREEN }}>666.64</span></Label>
      <Label x={507} y={64} color={TEXT}>L<span style={{ color: GREEN }}>653.24</span></Label>
      <Label x={580} y={64} color={TEXT}>C<span style={{ color: GREEN }}>665.12</span></Label>
      <Label x={656} y={64} color={GREEN} size={16.5}>+10.32 (+1.58%)</Label>
      <Label x={27} y={90} color={TEXT} size={17.6}>SMA · 1D (200, close)</Label>
      <Label x={208} y={90} color="#2962ff">615.71</Label>
      <Label x={27} y={116} color={TEXT} size={17.6}>SMA · 1D (50, close)</Label>
      <Label x={199} y={116} color="#ffffff" size={16} weight={700}>587.95</Label>

      <Label x={27} y={820} color={TEXT} size={17.7}>RSI (14, close)</Label>
      <Label x={152} y={820} color="#7e57c2" size={17}>79.58</Label>
      <Label x={27} y={954} color={TEXT} size={17.6}>MACD (close, 12, 26, 9)</Label>
      <Label x={226} y={954} color="#26a69a">5.25</Label>
      <Label x={273} y={954} color="#2962ff">15.14</Label>
      <Label x={327} y={954} color="#ff6d00">9.89</Label>

      <Label x={1714} y={504} color="#ffffff" weight={700} size={15.5}>62.51 (10.38%)</Label>

      <div style={{ position: "absolute", left: 1842, top: 47, width: 86, height: 38, background: PANE, border: "1px solid #3a3d45", borderRadius: 4, boxSizing: "border-box" }} />
      <Label x={1856} y={66} color="#d1d4dc" size={16.5}>USDT</Label>

      <div style={{ position: "absolute", left: 1837, top: 403, width: 74, height: 26, background: "#ff9800", borderRadius: 2 }} />
      <Label x={1850} y={416} color="#131722" size={17.5}>730.03</Label>
      <div style={{ position: "absolute", left: 1837, top: 524, width: 90, height: 48, background: GREEN, borderRadius: 2 }} />
      <Label x={1850} y={538} color="#ffffff" size={16.5} weight={700}>665.12</Label>
      <Label x={1850} y={559} color="#c9e8e2" size={17.5}>17:55:35</Label>

      <svg style={{ position: "absolute", left: 1740, top: 758 }} width={36} height={36}>
        <circle cx={18} cy={18} r={14} fill="none" stroke="#7e57c2" strokeWidth={2.5} />
        <path d="M21 9 L13 20 L18 20 L15 28 L23 16 L18 16 Z" fill="#7e57c2" />
        <circle cx={28} cy={8} r={4} fill="#f23645" />
      </svg>

      <svg style={{ position: "absolute", left: 18, top: 1095 }} width={46} height={23} viewBox="0 0 46 23">
        <path d="M0 0H17V22H8V9H0Z M33 0H45L33 22H21Z" fill="#e6e6e6" />
        <circle cx={25} cy={5} r={5} fill="#e6e6e6" />
      </svg>
      <Label x={73} y={1107} color="#e6e6e6" size={31} weight={600}><span style={{ fontFamily: "'Inter', sans-serif", letterSpacing: -0.6 }}>TradingView</span></Label>
    </div>
  );
}
